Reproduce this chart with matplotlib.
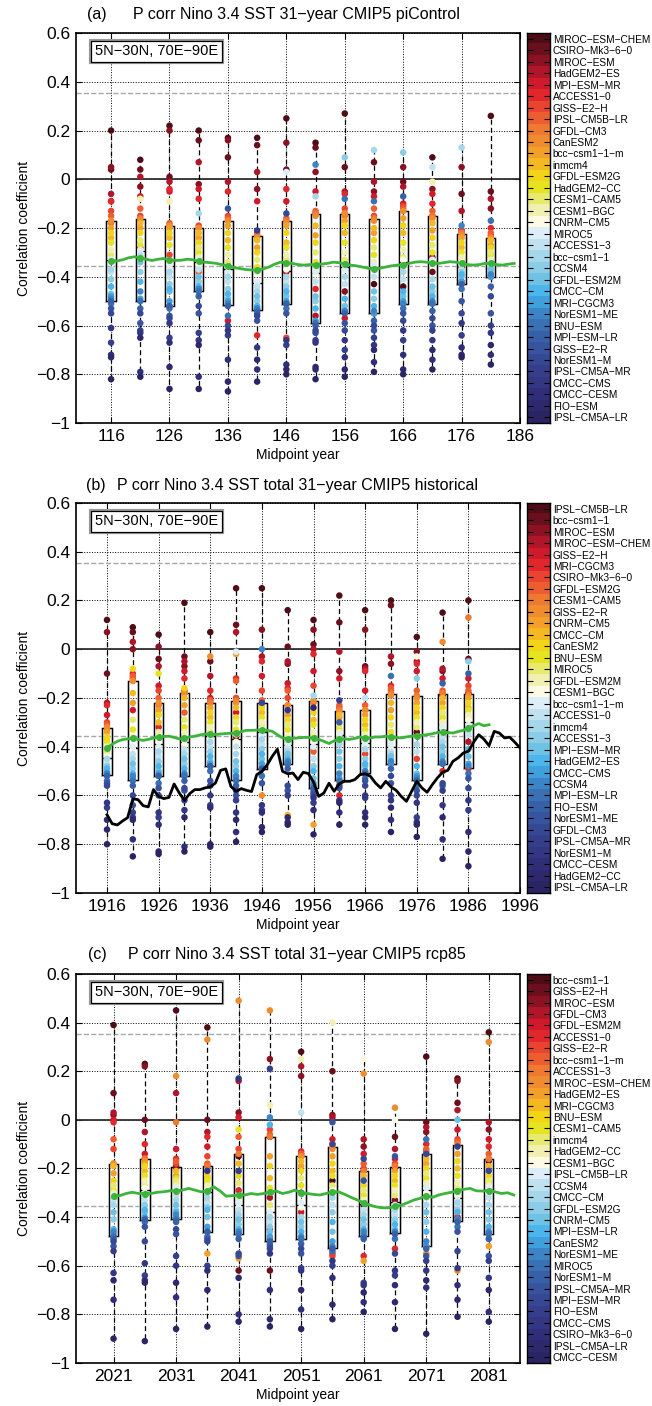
import numpy as np
import matplotlib
matplotlib.use('Agg')
import matplotlib.pyplot as plt
from matplotlib.colors import ListedColormap

plt.rcParams['font.family'] = ['Liberation Sans', 'DejaVu Sans']

# models in colour-bar order (top to bottom) for each experiment
models_a = ['MIROC-ESM-CHEM', 'CSIRO-Mk3-6-0', 'MIROC-ESM', 'HadGEM2-ES', 'MPI-ESM-MR',
            'ACCESS1-0', 'GISS-E2-H', 'IPSL-CM5B-LR', 'GFDL-CM3', 'CanESM2', 'bcc-csm1-1-m',
            'inmcm4', 'GFDL-ESM2G', 'HadGEM2-CC', 'CESM1-CAM5', 'CESM1-BGC', 'CNRM-CM5',
            'MIROC5', 'ACCESS1-3', 'bcc-csm1-1', 'CCSM4', 'GFDL-ESM2M', 'CMCC-CM', 'MRI-CGCM3',
            'NorESM1-ME', 'BNU-ESM', 'MPI-ESM-LR', 'GISS-E2-R', 'NorESM1-M', 'IPSL-CM5A-MR',
            'CMCC-CMS', 'CMCC-CESM', 'FIO-ESM', 'IPSL-CM5A-LR']
models_b = ['IPSL-CM5B-LR', 'bcc-csm1-1', 'MIROC-ESM', 'MIROC-ESM-CHEM', 'GISS-E2-H', 'MRI-CGCM3',
            'CSIRO-Mk3-6-0', 'GFDL-ESM2G', 'CESM1-CAM5', 'GISS-E2-R', 'CNRM-CM5', 'CMCC-CM',
            'CanESM2', 'BNU-ESM', 'MIROC5', 'GFDL-ESM2M', 'CESM1-BGC', 'bcc-csm1-1-m', 'ACCESS1-0',
            'inmcm4', 'ACCESS1-3', 'MPI-ESM-MR', 'HadGEM2-ES', 'CMCC-CMS', 'CCSM4', 'MPI-ESM-LR',
            'FIO-ESM', 'NorESM1-ME', 'GFDL-CM3', 'IPSL-CM5A-MR', 'NorESM1-M', 'CMCC-CESM',
            'HadGEM2-CC', 'IPSL-CM5A-LR']
models_c = ['bcc-csm1-1', 'GISS-E2-H', 'MIROC-ESM', 'GFDL-CM3', 'GFDL-ESM2M', 'ACCESS1-0',
            'GISS-E2-R', 'bcc-csm1-1-m', 'ACCESS1-3', 'MIROC-ESM-CHEM', 'HadGEM2-ES', 'MRI-CGCM3',
            'BNU-ESM', 'CESM1-CAM5', 'inmcm4', 'HadGEM2-CC', 'CESM1-BGC', 'IPSL-CM5B-LR', 'CCSM4',
            'CMCC-CM', 'GFDL-ESM2G', 'CNRM-CM5', 'MPI-ESM-LR', 'CanESM2', 'NorESM1-ME', 'MIROC5',
            'NorESM1-M', 'IPSL-CM5A-MR', 'MPI-ESM-MR', 'FIO-ESM', 'CMCC-CMS', 'CSIRO-Mk3-6-0',
            'IPSL-CM5A-LR', 'CMCC-CESM']

# midpoint years of the 31-year windows shown as boxes
mid_a = [116, 121, 126, 131, 136, 141, 146, 151, 156, 161, 166, 171, 176, 181]
mid_b = [1916, 1921, 1926, 1931, 1936, 1941, 1946, 1951, 1956, 1961, 1966, 1971, 1976, 1981, 1986]
mid_c = [2021, 2026, 2031, 2036, 2041, 2046, 2051, 2056, 2061, 2066, 2071, 2076, 2081]

# correlation x100, one list per window, values in model order
corr_a = [
    [20,4,5,-6,-9,-9,-13,-15,-18,-17,-20,-24,-22,-26,-31,-29,-33,-33,-38,-37,-41,-47,-44,-48,-49,-51,-50,-53,-55,-67,-61,-72,-73,-82],
    [8,4,-3,1,-7,-28,-15,-12,-16,-17,-20,-18,-22,-27,-25,-8,-30,-29,-31,-32,-38,-34,-42,-49,-46,-50,-53,-59,-55,-62,-63,-79,-65,-81],
    [22,1,20,-1,-5,-4,-31,-18,-19,-19,-20,-24,-22,-27,-34,-9,-35,-36,-40,-38,-43,-46,-45,-50,-52,-53,-52,-56,-57,-65,-59,-67,-77,-86],
    [20,16,-2,7,-4,-8,-19,-38,-20,-20,-24,-22,-26,-30,-28,-32,-35,-33,-37,-14,-42,-40,-44,-45,-45,-46,-48,-55,-52,-63,-66,-81,-68,-86],
    [17,9,16,-1,-58,-5,-15,-16,-17,-17,-19,-25,-22,-28,-34,-31,-36,-38,-42,-40,-45,-49,-47,-50,-51,-56,-52,-12,-60,-64,-62,-74,-83,-87],
    [17,14,-4,3,-9,-64,-23,-22,-23,-24,-28,-25,-30,-36,-33,-38,-43,-42,-44,-46,-50,-48,-52,-53,-53,-54,-55,-58,-56,-21,-69,-78,-74,-83],
    [25,4,15,-38,-9,-4,-65,-16,-17,-18,-19,-26,-22,-28,-33,-31,-37,3,-42,-40,-44,-48,-46,-50,-51,-53,-51,-55,-14,-68,-66,-76,-78,-80],
    [15,13,3,-56,-5,-45,-14,-13,-14,-15,-23,-19,-26,-34,-30,-37,-39,-38,-42,-7,-50,-48,-53,-58,6,-59,-60,-63,-62,-66,-67,-78,-77,-82],
    [27,5,-46,-5,-57,-6,-12,-14,-15,-14,-17,-22,-19,-26,-33,-30,-35,-37,-43,-40,9,-52,-49,-54,-54,-8,-55,-59,-62,-70,-66,-73,-78,-81],
    [-43,7,-5,-1,-7,-55,-15,-12,-16,-17,-22,-20,-25,-31,-28,-34,-37,-35,-40,12,-49,-46,-52,-55,-54,-9,-58,-62,-60,-65,-68,-75,-70,-79],
    [-44,-1,5,-3,-10,-51,-11,-12,-13,-13,-16,-22,-19,-26,-32,-29,-33,-35,-41,-38,11,-48,-46,-50,-51,-53,-7,-55,-58,-66,-62,-72,-78,-80],
    [9,-38,-4,-32,-6,-10,-15,-13,-15,-16,-21,-18,-24,-30,-27,-1,-35,-33,5,-41,-46,-44,-48,-51,-50,-51,-54,-60,-57,-62,-66,-74,-70,-78],
    [-36,-6,5,-13,-21,-42,-21,-22,-22,-23,-24,-28,-26,-30,-33,-32,-34,-35,-37,13,-38,-40,-39,-42,-19,-45,-43,-50,-55,-64,-59,-69,-72,-73],
    [26,-5,-12,-8,-40,-20,-23,-22,-24,-24,-27,-25,-28,-31,-30,-33,-34,-34,-35,-36,-38,-37,-39,-40,-39,-17,-44,-55,-48,-60,-63,-72,-68,-76],
]
corr_b = [
    [12,-10,7,-22,-27,-23,-30,-31,-33,-32,-34,-37,-36,-38,-42,-40,-44,-45,-47,-45,-48,-50,-49,-51,-51,-54,-52,-55,-56,-65,-63,-70,-74,-80],
    [9,7,0,3,-25,-10,-12,-11,-13,-13,-22,-18,-8,-33,-29,-36,-41,-40,-43,-45,-49,-47,-51,-53,-52,-54,-56,-64,-60,-67,-69,-78,-70,-85],
    [6,-4,1,-7,-15,-32,-17,-20,-23,-22,-25,-30,-27,-10,-36,-34,-38,-40,-44,-42,-46,-50,-48,-51,-52,-55,-52,-57,-60,-69,-67,-72,-83,-84],
    [19,-3,-7,-5,-9,-12,-17,-26,-18,-18,-23,-20,-16,-32,-29,-34,-39,-37,-41,-43,-47,-45,-49,-52,-51,-52,-54,-58,-57,-62,-66,-81,-69,-83],
    [7,-5,-22,-11,-20,-17,-21,-21,-22,-3,-24,-28,-26,-30,-34,-32,-35,-36,-40,-38,-42,-46,-44,-47,-48,-50,-48,-54,-56,-64,-60,-65,-80,-81],
    [25,10,-36,7,-26,-12,-20,-13,-21,-22,-2,-24,-28,-33,-30,-35,-38,-1,-40,-43,-48,-46,-50,-53,-52,-54,-56,-60,-58,-62,-67,-75,-70,-79],
    [25,-49,8,-3,-11,-5,-17,-21,-22,-60,-23,-26,-24,-28,-31,-30,-33,-35,-39,-37,-41,-45,-43,-47,0,-52,-49,-55,-22,-66,-64,-67,-73,-75],
    [16,1,-6,-5,-14,-16,-20,-17,-23,-23,-27,-68,-29,-33,-31,-36,-40,-39,-41,-42,-44,-43,-45,-47,-46,-47,-49,-58,-56,-60,-25,-71,-69,-72],
    [12,2,8,0,-9,-2,-15,-42,-22,-21,-72,-29,-26,-31,-36,-34,-38,-40,-45,-19,-48,-53,-50,-55,-56,-58,-57,-59,-60,-63,-61,-66,-24,-76],
    [22,11,-9,-1,-12,-60,-24,-23,-25,-26,-28,-27,-55,-33,-31,-34,-35,-35,-37,-39,-45,-42,-48,-53,-51,-54,-30,-57,-56,-21,-62,-67,-63,-72],
    [16,-7,8,-8,-17,-9,-43,-23,-25,-25,-27,-31,-29,-33,-37,-35,-38,-39,-20,-41,-45,-48,-47,-50,-50,-53,-51,-54,-56,-61,-60,-67,-69,-72],
    [20,18,-6,-3,-47,-15,-17,-16,-18,-19,-25,-22,-28,-34,-31,-37,-41,-39,-42,-43,-45,-44,-46,-47,-46,-11,-49,-55,-52,-60,-62,-70,-65,-75],
    [5,-34,-1,-5,-9,-6,-45,-17,-19,-20,-22,-26,-24,-28,-32,-30,-3,-36,-42,-39,-12,-51,-48,-52,-53,-56,-54,-58,-60,-69,-63,-71,-72,-77],
    [15,-19,-9,-8,-12,-50,-18,-17,-18,3,-22,-20,-24,-28,-26,-30,-34,-32,-36,-38,-42,-40,-44,-47,-46,-47,-14,-56,-55,-58,-64,-78,-69,-86],
    [20,-4,-18,-38,-12,-49,-15,-17,13,-19,-20,-24,-22,-25,-28,-27,-29,-31,-35,-33,-5,-44,-41,-47,-48,-51,-10,-53,-57,-66,-62,-75,-83,-89],
]
corr_c = [
    [39,11,2,3,0,-1,-12,-8,-18,-18,-22,-19,-25,-29,-27,-30,-31,-31,-33,-35,-41,-38,-45,-47,-46,-48,-49,-52,-50,-54,-63,-74,-66,-90],
    [23,0,22,-5,-14,-10,-16,-16,-16,-17,-18,-21,-19,-23,-27,-25,-28,-30,-33,-31,-35,-38,-37,-40,-41,-42,-41,-44,-50,-64,-59,-66,-67,-91],
    [45,-20,-19,11,-12,-16,-18,-17,-1,18,-23,-21,-24,-26,-25,-27,-30,-28,-31,-33,-37,-35,-38,-40,-39,-41,-42,-47,-45,-56,-60,-73,-67,-86],
    [38,0,-19,-5,-11,-7,-15,-18,-19,33,-55,-24,-23,-25,-28,-27,-29,-30,-34,-32,-36,-40,-37,-44,-46,-48,-46,-49,-50,-60,-21,-62,-70,-85],
    [-15,-62,3,16,1,-29,-12,-7,-14,49,-57,-18,-23,-4,-26,-32,-36,-34,-37,-39,-43,-41,-45,-47,-46,-47,-49,-56,-55,-21,17,-80,-65,-83],
    [-7,-62,25,-32,-45,-49,-4,-6,-7,45,-15,-24,-19,-28,-35,6,-38,-38,-42,-40,-44,-46,-2,-48,1,-51,-50,-52,-53,21,-55,-70,-82,-85],
    [28,-30,18,22,-38,-13,-14,-14,-15,-15,-19,-17,-21,-27,-24,25,-36,-34,3,-40,-44,-42,-46,-49,-48,-49,-51,-55,-53,-61,-62,-78,-70,-86],
    [-25,20,2,1,-8,-55,-56,-10,-11,-12,-15,-21,-18,-23,-27,40,-29,-30,-35,-32,-38,-46,-42,-50,-52,-54,-53,-1,-10,-60,-58,-65,-76,-82],
    [-35,-21,-11,-8,-14,-56,-20,-18,-21,19,-58,-23,-27,-31,-29,-33,25,-34,-37,-39,-43,-41,-45,-47,-46,-48,-49,-25,-16,-67,-68,-75,-71,-79],
    [-20,-7,-33,-12,-16,-53,-18,-19,-19,5,-21,-25,-23,-27,-31,-29,0,-35,-39,-37,-41,-45,-43,-46,-46,-49,-47,-15,-55,-64,-62,-68,-75,-86],
    [26,-1,-5,-3,-52,-10,-13,-12,-14,-55,-18,-16,-20,-24,-22,-26,-30,-28,-32,-35,-42,-38,-46,-52,-50,-8,-53,-56,-14,-58,-62,-69,-66,-88],
    [17,7,16,4,-4,-40,-8,-9,-10,-62,-14,-20,-17,-23,-28,-26,-31,-33,-35,-34,-37,0,-38,-41,-41,-44,-42,-46,-54,-11,-61,-68,-74,-81],
    [36,-17,-4,-1,-8,-11,-16,-14,-16,32,-52,-19,-23,-26,-25,-27,-30,-28,-32,-35,-41,-38,-44,-47,-46,-47,-49,-56,-21,-58,-65,-79,-70,-83],
]

# multi-model mean, one value per midpoint year
mm_a_start = 116
mm_a = [-0.335, -0.335, -0.330, -0.322, -0.318, -0.322, -0.328, -0.333, -0.328, -0.325,
        -0.330, -0.333, -0.332, -0.328, -0.330, -0.337, -0.340, -0.342, -0.345, -0.350,
        -0.356, -0.362, -0.366, -0.370, -0.372, -0.372, -0.368, -0.360, -0.348, -0.340,
        -0.342, -0.345, -0.350, -0.352, -0.350, -0.350, -0.348, -0.345, -0.340, -0.342,
        -0.348, -0.352, -0.355, -0.360, -0.365, -0.368, -0.365, -0.360, -0.355, -0.352,
        -0.350, -0.345, -0.340, -0.338, -0.340, -0.343, -0.345, -0.342, -0.338, -0.340,
        -0.345, -0.350, -0.352, -0.350, -0.345, -0.345, -0.350, -0.352, -0.348, -0.345]
mm_b_start = 1916
mm_b = [-0.405, -0.390, -0.378, -0.371, -0.368, -0.366, -0.370, -0.374, -0.370, -0.364,
        -0.360, -0.358, -0.357, -0.362, -0.368, -0.366, -0.360, -0.357, -0.352, -0.348,
        -0.349, -0.350, -0.348, -0.346, -0.345, -0.344, -0.338, -0.333, -0.333, -0.332,
        -0.331, -0.333, -0.337, -0.351, -0.364, -0.368, -0.366, -0.364, -0.362, -0.362,
        -0.364, -0.370, -0.378, -0.387, -0.376, -0.370, -0.368, -0.370, -0.366, -0.360,
        -0.366, -0.364, -0.360, -0.360, -0.357, -0.360, -0.362, -0.364, -0.360, -0.357,
        -0.355, -0.353, -0.351, -0.347, -0.342, -0.340, -0.342, -0.344, -0.338, -0.333,
        -0.323, -0.314, -0.305, -0.314, -0.310]
mm_c_start = 2021
mm_c = [-0.312, -0.312, -0.303, -0.298, -0.303, -0.303, -0.303, -0.298, -0.296, -0.292,
        -0.293, -0.289, -0.282, -0.289, -0.296, -0.293, -0.275, -0.292, -0.314, -0.312,
        -0.309, -0.309, -0.303, -0.307, -0.303, -0.298, -0.293, -0.303, -0.298, -0.289,
        -0.300, -0.303, -0.307, -0.309, -0.303, -0.296, -0.296, -0.307, -0.319, -0.330,
        -0.341, -0.351, -0.358, -0.362, -0.362, -0.356, -0.351, -0.341, -0.330, -0.323,
        -0.312, -0.319, -0.309, -0.303, -0.298, -0.291, -0.286, -0.282, -0.292, -0.293,
        -0.291, -0.296, -0.303, -0.300, -0.309]

# observed correlation (historical panel only)
obs_start = 1916
obs_b = [-0.679, -0.716, -0.721, -0.705, -0.691, -0.614, -0.617, -0.642, -0.647, -0.576,
         -0.604, -0.613, -0.608, -0.553, -0.590, -0.620, -0.593, -0.576, -0.576, -0.569,
         -0.565, -0.549, -0.497, -0.491, -0.563, -0.583, -0.572, -0.579, -0.584, -0.515,
         -0.501, -0.475, -0.440, -0.410, -0.501, -0.511, -0.508, -0.535, -0.505, -0.510,
         -0.545, -0.604, -0.590, -0.550, -0.583, -0.552, -0.542, -0.542, -0.535, -0.515,
         -0.511, -0.521, -0.549, -0.569, -0.542, -0.565, -0.579, -0.604, -0.624, -0.583,
         -0.542, -0.569, -0.587, -0.556, -0.528, -0.505, -0.497, -0.460, -0.446, -0.426,
         -0.419, -0.382, -0.351, -0.369, -0.396, -0.337, -0.344, -0.364, -0.361, -0.382,
         -0.405]

sig_level = 0.355

palette = ['#4e0c16', '#6a0f1c', '#8a1222', '#b0162a', '#d01a2c', '#e0282c', '#e84430',
           '#ec5e30', '#ee7a32', '#f08c30', '#f2a02a', '#f4b822', '#f2d418', '#e6e420',
           '#e8ea70', '#f2f0b0', '#fcfae4', '#deeef8', '#c0e2f0', '#a6d6ea', '#8ccce6',
           '#70c2e4', '#4cb6ec', '#3ea0dc', '#3c84c6', '#3a70b4', '#3860a8', '#38549e',
           '#364894', '#353e8a', '#333682', '#302e78', '#2d296c', '#2a2462']

fig = plt.figure(figsize=(6.52, 14.06), dpi=100)


def fmt(v):
    v = round(v, 1)
    if abs(v) < 1e-9:
        return '0'
    return ('%g' % v).replace('-', '\u2212')


def panel(bottom, height, tag, tag_x, title, title_x, title_y, mids, corr, names,
          mm_start, mm, xlim, xticks, boxw, obs=None):
    ax = fig.add_axes([0.1166, bottom, 0.681, height])
    cax = fig.add_axes([0.8083, bottom, 0.0353, height])
    vals = [np.array(c) / 100.0 for c in corr]

    ax.axhline(sig_level, color='#a8a8a8', ls='--', lw=1.0, zorder=1)
    ax.axhline(-sig_level, color='#a8a8a8', ls='--', lw=1.0, zorder=1)
    ax.axhline(0, color='#303030', lw=1.3, zorder=1.2)

    # light grey shadow of the boxes, then the black boxes
    ax.boxplot(vals, positions=mids, widths=boxw, whis=(0, 100), showfliers=False,
               showcaps=False, manage_ticks=False,
               boxprops=dict(color='#b4b4b4', lw=1.8), whiskerprops=dict(lw=0),
               medianprops=dict(lw=0), zorder=2)
    ax.boxplot(vals, positions=mids, widths=boxw, whis=(0, 100), showfliers=False,
               showcaps=False, manage_ticks=False,
               boxprops=dict(color='k', lw=0.8),
               whiskerprops=dict(color='k', lw=0.9, ls=(0, (4, 2.5))),
               medianprops=dict(color='k', lw=1.0), zorder=2.2)

    for x, v in zip(mids, vals):
        ax.scatter(np.full(len(v), x), v, c=palette, s=22, lw=0, zorder=3)

    mm_years = np.arange(mm_start, mm_start + len(mm))
    ax.plot(mm_years, mm, color='#3cb43c', lw=2.0, zorder=4)
    mm_mid = [mm[y - mm_start] for y in mids]
    ax.scatter(mids, mm_mid, color='#3cb43c', s=26, lw=0, zorder=5)

    if obs is not None:
        obs_years = np.arange(obs_start, obs_start + len(obs))
        ax.plot(obs_years, obs, color='k', lw=2.0, zorder=4)

    ax.set_xlim(xlim)
    ax.set_ylim(-1, 0.6)
    ax.set_xticks(xticks)
    yt = np.arange(-1, 0.61, 0.2)
    ax.set_yticks(yt)
    ax.set_yticklabels([fmt(v) for v in yt])
    ax.grid(True, ls=':', color='k', lw=0.7)
    ax.set_axisbelow(True)
    ax.tick_params(direction='in', length=4, width=0.8, labelsize=12.5,
                   top=True, right=True, pad=4)
    for sp in ax.spines.values():
        sp.set_linewidth(1.2)
    ax.set_xlabel('Midpoint year', fontsize=10, labelpad=3)
    ax.set_ylabel('Correlation coefficient', fontsize=10, labelpad=4)

    for ec, lw in (('#9a9a9a', 3.0), ('k', 0.9)):
        ax.text(0.043, 0.971, '5N\u221230N, 70E\u221290E', transform=ax.transAxes,
                ha='left', va='top', fontsize=10.5, zorder=6,
                bbox=dict(boxstyle='square,pad=0.25', fc='white', ec=ec, lw=lw))

    fig.text(tag_x / 652, 1 - title_y / 1406, tag, fontsize=11.5, va='center')
    fig.text(title_x / 652, 1 - title_y / 1406, title, fontsize=11.5, va='center')

    cax.imshow(np.arange(len(names)).reshape(-1, 1), cmap=ListedColormap(palette),
               aspect='auto', interpolation='nearest')
    cax.set_xticks([])
    cax.set_yticks(range(len(names)))
    cax.set_yticklabels([n.replace('-', '\u2212') for n in names])
    cax.tick_params(axis='y', direction='in', left=True, right=True, labelleft=False,
                    labelright=True, length=4, width=0.8, labelsize=7.3, pad=2)
    for sp in cax.spines.values():
        sp.set_linewidth(1.0)


panel(0.6991, 0.2774, '(a)', 87, 'P corr Nino 3.4 SST 31\u2212year CMIP5 piControl', 133, 15,
      mid_a, corr_a, models_a, mm_a_start, mm_a, (110, 186), range(116, 187, 10), 1.6)
panel(0.3649, 0.2774, '(b)', 86, 'P corr Nino 3.4 SST total 31\u2212year CMIP5 historical', 117, 486,
      mid_b, corr_b, models_b, mm_b_start, mm_b, (1910, 1996), range(1916, 1997, 10), 1.85,
      obs=obs_b)
panel(0.0306, 0.2767, '(c)', 88, 'P corr Nino 3.4 SST total 31\u2212year CMIP5 rcp85', 128, 955,
      mid_c, corr_c, models_c, mm_c_start, mm_c, (2015, 2086), range(2021, 2082, 10), 1.5)

fig.savefig('out.png', dpi=100)
